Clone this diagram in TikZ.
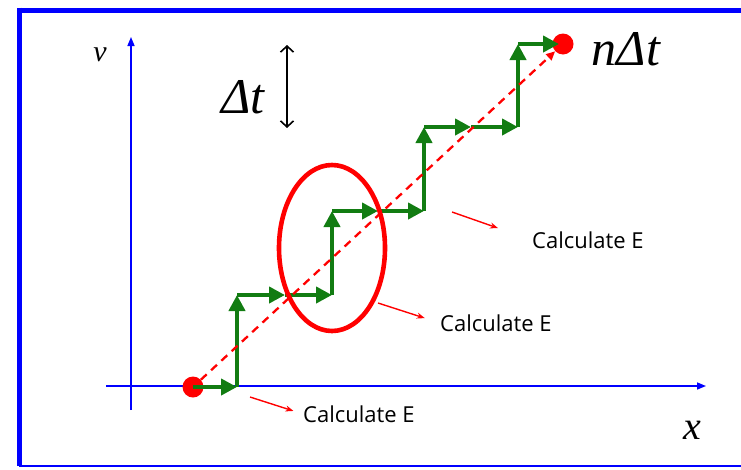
\documentclass[tikz,border=0pt]{standalone}
\usepackage{fontspec}
\setmainfont{Liberation Serif}
\newfontfamily\calcfont{Open Sans}
\usetikzlibrary{arrows.meta,shapes.geometric}
\definecolor{fblue}{HTML}{0000FF}
\definecolor{fgreen}{HTML}{127C12}
\definecolor{fred}{HTML}{FF0000}
\tikzset{
  faxis/.style={fblue, line width=1.5pt, -{Triangle[length=9pt,width=7pt]}},
  fstep/.style={fgreen, line width=4.6pt, -{Triangle[length=16pt,width=16pt]}},
  fdot/.style={circle, fill=fred, minimum size=21pt, inner sep=0pt},
  fpath/.style={fred, dash pattern=on 8pt off 6pt, line width=2.3pt,
                -{Triangle[length=9pt,width=8pt]}},
  fzone/.style={ellipse, draw=fred, line width=4.6pt, minimum width=106pt,
                minimum height=166pt, inner sep=0pt},
  fpoint/.style={fred, line width=1.4pt, -{Stealth[length=8pt,width=6pt]}},
  fcalc/.style={font=\calcfont\fontsize{22}{26}\selectfont, inner sep=0pt,
                anchor=west},
  fmath/.style={inner sep=0pt, font=\itshape\fontsize{50}{60}\selectfont},
}

\begin{document}
\begin{tikzpicture}[x=1pt,y=-1pt]
  \useasboundingbox (0,0) rectangle (741,469);

  % moldura
  \draw[fblue, line width=5pt] (741,10) -- (19,10);
  \draw[fblue, line width=5pt] (19,7.5) -- (19,466);
  \draw[fblue, line width=2pt] (19,466) -- (741,466);

  % eixos
  \draw[faxis] (131,410) -- (131,37);
  \draw[faxis] (106,386) -- (706,386);
  \node[inner sep=0pt, font=\itshape\fontsize{30}{36}\selectfont] (vlbl) at (100,55) {v};
  \node[inner sep=0pt, font=\itshape\fontsize{40}{48}\selectfont] (xlbl) at (692,430) {x};

  % passo de tempo
  \node[fmath] (dt) at (243,97) {Δt};
  \coordinate (dtA) at (287,45);
  \coordinate (dtB) at (287,128);
  \draw[black, line width=1.6pt,
        {Straight Barb[length=6pt,width=13pt]}-{Straight Barb[length=6pt,width=13pt]}]
        (dtA) -- (dtB);

  % pontos inicial e final
  \node[fdot] (ini) at (193,387) {};
  \node[fdot] (fim) at (563,44) {};
  \node[fmath] (ndt) at (626,49) {nΔt};

  % degraus
  \coordinate (c0) at (237,387);
  \coordinate (c1) at (237,295);
  \coordinate (m1) at (285,295);
  \coordinate (c2) at (332,295);
  \coordinate (c3) at (332,211);
  \coordinate (m3) at (378,211);
  \coordinate (c4) at (424,211);
  \coordinate (c5) at (424,127);
  \coordinate (m5) at (471,127);
  \coordinate (c6) at (518,127);
  \coordinate (c7) at (518,44);

  \draw[fstep] (ini.center) -- (c0);
  \draw[fstep] (c0) -- (c1);
  \draw[fstep] (c1) -- (m1);
  \draw[fstep] (m1) -- (c2);
  \draw[fstep] (c2) -- (c3);
  \draw[fstep] (c3) -- (m3);
  \draw[fstep] (m3) -- (c4);
  \draw[fstep] (c4) -- (c5);
  \draw[fstep] (c5) -- (m5);
  \draw[fstep] (m5) -- (c6);
  \draw[fstep] (c6) -- (c7);
  \draw[fstep, shorten >=4pt] (c7) -- (fim.center);

  % trajetória direta
  \draw[fpath] (ini) -- (fim);

  \node[fzone] (zona) at (332,248) {};

  % avaliações de energia
  \node[fcalc] (calcA) at (303,414) {Calculate E};
  \node[fcalc] (calcB) at (440,323) {Calculate E};
  \node[fcalc] (calcC) at (532,240) {Calculate E};

  \coordinate (pA) at (250,397);
  \coordinate (pB) at (378,303);
  \coordinate (pC) at (452,212);
  \draw[fpoint, shorten >=10pt] (pA) -- (calcA.west);
  \draw[fpoint, shorten >=16pt] (pB) -- (calcB.west);
  \draw[fpoint, shorten >=36pt] (pC) -- (calcC.west);

\end{tikzpicture}
\end{document}
